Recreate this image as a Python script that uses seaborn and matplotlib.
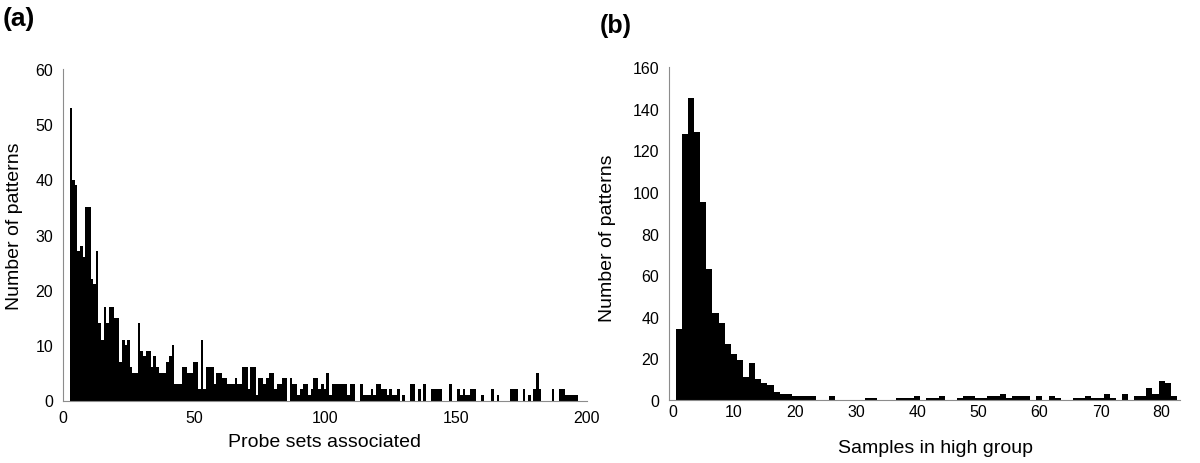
import matplotlib
matplotlib.use("Agg")
import matplotlib.pyplot as plt
import seaborn as sns

# panel (a): number of patterns by probe sets associated
probe_sets = list(range(3, 198))
probe_counts = [
    53, 40, 39, 27, 28, 26, 35, 35, 22, 21,
    27, 14, 11, 17, 14, 17, 17, 15, 15, 7,
    11, 10, 11, 6, 5, 5, 14, 9, 8, 9,
    9, 6, 8, 6, 5, 5, 5, 7, 8, 10,
    3, 3, 3, 6, 6, 5, 5, 7, 7, 2,
    11, 2, 6, 6, 6, 3, 5, 5, 4, 4,
    3, 3, 3, 4, 3, 3, 6, 6, 2, 6,
    6, 1, 4, 4, 3, 4, 5, 5, 2, 3,
    3, 4, 4, 0, 4, 3, 3, 1, 2, 3,
    3, 1, 2, 4, 4, 2, 3, 2, 5, 1,
    3, 3, 3, 3, 3, 3, 1, 3, 3, 0,
    0, 3, 1, 1, 1, 2, 1, 3, 3, 2,
    2, 1, 2, 1, 1, 2, 0, 1, 0, 0,
    3, 3, 0, 2, 0, 3, 0, 0, 2, 2,
    2, 2, 0, 0, 0, 3, 0, 0, 2, 1,
    2, 1, 1, 2, 2, 0, 0, 1, 0, 0,
    0, 2, 0, 1, 0, 0, 0, 0, 2, 2,
    2, 0, 0, 2, 0, 1, 0, 2, 5, 2,
    0, 0, 0, 0, 2, 0, 0, 2, 2, 1,
    1, 1, 1, 1, 0,
]

# panel (b): number of patterns by samples in high group
samples = list(range(1, 83))
sample_counts = [
    34, 128, 145, 129, 95, 63, 42, 37, 27, 22,
    19, 11, 18, 10, 8, 7, 4, 3, 3, 2,
    2, 2, 2, 0, 0, 2, 0, 0, 0, 0,
    0, 1, 1, 0, 0, 0, 1, 1, 1, 2,
    0, 1, 1, 2, 0, 0, 1, 2, 2, 1,
    1, 2, 2, 3, 1, 2, 2, 2, 0, 2,
    0, 2, 1, 0, 0, 1, 1, 2, 1, 1,
    3, 1, 0, 3, 0, 2, 2, 6, 3, 9,
    8, 2,
]

sns.set_style("white")
plt.rcParams["font.family"] = ["Liberation Sans", "DejaVu Sans"]
plt.rcParams["text.color"] = "black"

W, H = 1200, 464
fig = plt.figure(figsize=(12, 4.64), dpi=100)

# axes placed in pixel units of the reference
ax1 = fig.add_axes([63 / W, 1 - 401.5 / H, 524 / W, 331.5 / H])
ax2 = fig.add_axes([669 / W, 1 - 401 / H, 511 / W, 332.7 / H])

sns.histplot(x=probe_sets, weights=probe_counts, discrete=True, color="black",
             alpha=1, linewidth=0, ax=ax1)
sns.histplot(x=samples, weights=sample_counts, discrete=True, color="black",
             alpha=1, linewidth=0, ax=ax2)

grey = "#8c8c8c"
for ax in (ax1, ax2):
    sns.despine(ax=ax)
    for side in ("left", "bottom"):
        ax.spines[side].set_color(grey)
        ax.spines[side].set_linewidth(0.8)
    ax.set_xlabel("")
    ax.set_ylabel("")
    ax.tick_params(axis="both", which="both", direction="out", length=4,
                   width=0.8, color=grey, labelcolor="black", labelsize=11.5, pad=3)

# (a) axis
ax1.set_xlim(0, 200)
ax1.set_ylim(0, 60)
ax1.set_yticks(range(0, 61, 10))
ax1.set_xticks(range(0, 201, 25))
ax1.set_xticklabels([str(v) if v % 50 == 0 else "" for v in range(0, 201, 25)])

# (b) axis
ax2.set_xlim(-0.6, 83.0)
ax2.set_ylim(0, 160)
ax2.set_yticks(range(0, 161, 20))
ax2.set_xticks(range(0, 81, 10))
ax2.tick_params(axis="x", which="major", length=0)
ax2.set_xticks([v - 0.5 for v in range(0, 81, 5)], minor=True)

# labels
fig.text(3 / W, 1 - 19 / H, "(a)", fontsize=19, fontweight="bold", va="center", ha="left")
fig.text(600 / W, 1 - 26 / H, "(b)", fontsize=18, fontweight="bold", va="center", ha="left")
fig.text(15 / W, 1 - 226 / H, "Number of patterns", rotation=90, fontsize=14,
         ha="center", va="center")
fig.text(608 / W, 1 - 238 / H, "Number of patterns", rotation=90, fontsize=14,
         ha="center", va="center")
fig.text(325 / W, 1 - 443 / H, "Probe sets associated", fontsize=14, ha="center", va="center")
fig.text(935 / W, 1 - 449 / H, "Samples in high group", fontsize=14, ha="center", va="center")

fig.savefig("out.png", dpi=100)
